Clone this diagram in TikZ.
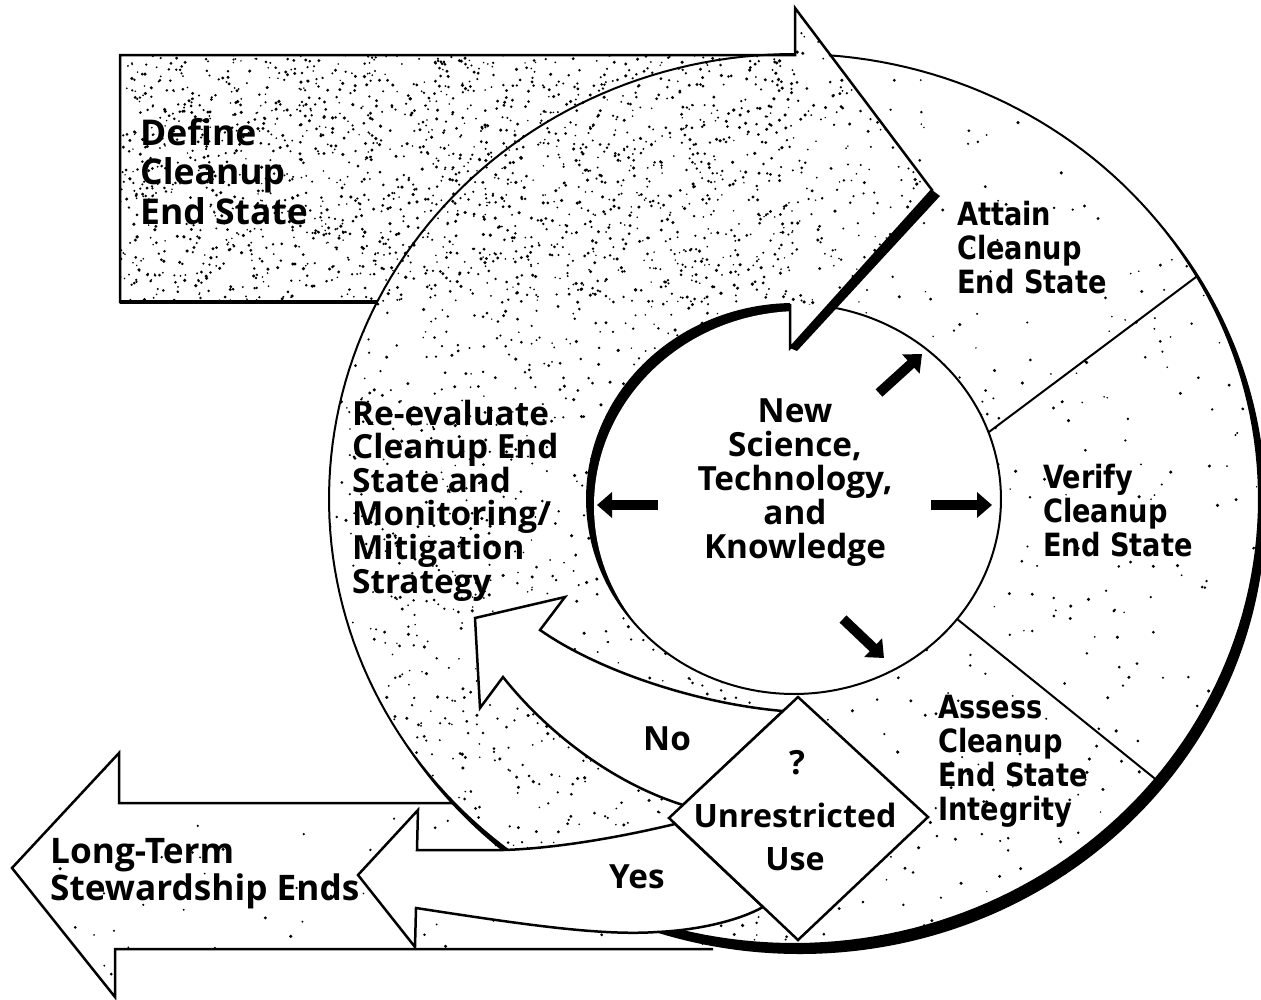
\documentclass[tikz,border=0pt]{standalone}
\usepackage{fontspec}
\newfontfamily\fA{Open Sans}
\newfontfamily\fB{DejaVu Sans}[FakeStretch=0.85]
\usetikzlibrary{arrows.meta}
% #1 = number of chunks of 300 dots
\newcommand{\sprinkle}[5]{\foreach \k in {1,...,#1}{\fill foreach \i in {1,...,300} {({#2+(#3-#2)*rnd},{#4+(#5-#4)*rnd}) circle[radius={0.8+1.0*rnd}]};}}
\newcommand{\sprinklefew}[5]{\fill foreach \i in {1,...,#1} {({#2+(#3-#2)*rnd},{#4+(#5-#4)*rnd}) circle[radius={0.8+1.0*rnd}]};}
\begin{document}
\begin{tikzpicture}[x=1pt,y=-1pt,
  outl/.style={line width=2.5pt, line join=miter},
  thinl/.style={line width=2pt},
  fatarrow/.style={line width=10pt, -{Triangle[length=15pt,width=25pt]}},
  lblA/.style={inner sep=0pt, align=left, font=\fA\bfseries\fontsize{33.3}{33.6}\selectfont},
  lblB/.style={inner sep=0pt, align=left, font=\fB\bfseries\fontsize{32}{33.7}\selectfont}]
\pgfmathsetseed{20240}
\useasboundingbox (0,0) rectangle (1261,999);
\def\ltpath{(119,803) -- (119,753) -- (12,868) -- (115,997) -- (115,949) -- (713,949) -- (713,803) -- cycle}
\def\ringpath{(794,499) ellipse [x radius=465, y radius=445]}
\def\bandpath{(377,302) -- (120,302) -- (120,55) -- (795,55) -- (795,8) -- (932,190) -- (790,348) -- (790,304) -- plot[domain=-90:-270,samples=90] ({794+207*cos(\x)},{499+195*sin(\x)}) -- plot[domain=90:206.27,samples=90] ({794+465*cos(\x)},{499+445*sin(\x)}) -- cycle}
% Long-term arrow
\fill[white] \ltpath;
\begin{scope}\clip \ltpath; \sprinklefew{90}{12}{713}{753}{997}\end{scope}
\draw[outl] (713,803) -- (119,803) -- (119,753) -- (12,868) -- (115,997) -- (115,949) -- (713,949);
% ring with shadow
\fill[black] (800,507) ellipse [x radius=466, y radius=447];
\fill[white] \ringpath;
\begin{scope}\clip \ringpath; \sprinkle{3}{329}{1259}{54}{944}\end{scope}
% stippled band
\fill[white] \bandpath;
\begin{scope}\clip \bandpath; \sprinkle{11}{120}{935}{8}{945} \sprinkle{4}{120}{795}{55}{302}\end{scope}
\draw[thinl] plot[domain=-85.7:270,samples=220] ({794+465*cos(\x)},{499+445*sin(\x)});
% sector dividers
\coordinate (d1a) at ({794+207*cos(-20)},{499+195*sin(-20)});
\coordinate (d1b) at ({794+465*cos(-30)},{499+445*sin(-30)});
\coordinate (d2a) at ({794+207*cos(38)},{499+195*sin(38)});
\coordinate (d2b) at ({794+465*cos(39)},{499+445*sin(39)});
\draw[thinl] (d1a) -- (d1b);
\draw[thinl] (d2a) -- (d2b);
% inner circle
\fill[white] (794,499) ellipse [x radius=207, y radius=195];
\begin{scope}
\clip (794,499) ellipse [x radius=207, y radius=195];
\begin{scope}
\clip (0,0) rectangle (790.5,999);
\fill (0,0) rectangle (1261,999);
\end{scope}
\fill[white] (801,506) ellipse [x radius=207, y radius=195];
\end{scope}
\draw[thinl] plot[domain=-80.5:268.9,samples=200] ({794+207*cos(\x)},{499+195*sin(\x)});
% arrowhead shadow and outlines
\fill (932,190) -- (790,348) -- (797,351) -- (940,196) -- cycle;
\draw[outl] (377,302) -- (120,302) -- (120,55) -- (795,55) -- (795,8) -- (932,190) -- (790,348) -- (790,304);
\draw[line width=3.2pt] (120,302) -- (377,302);
% small arrows
\draw[fatarrow] (658,505) -- (597,505);
\draw[fatarrow] (931,505) -- (992,505);
\draw[fatarrow] (879,393) -- (922,354);
\draw[fatarrow] (843,619) -- (884,658);
% No arrow
\draw[outl, fill=white] (783,711) .. controls (700,704) and (600,672) .. (540,630) -- (565,597) -- (475,618) -- (480,708) -- (503,677) .. controls (545,730) and (610,782) .. (683,805) -- cycle;
% Yes arrow
\draw[outl, fill=white] (675,824) .. controls (600,842) and (540,849) .. (503,850) -- (417,850) -- (418,810) -- (358,875) -- (415,947) -- (416,908) .. controls (520,924) and (600,936) .. (657,932) .. controls (700,930) and (740,920) .. (763,907) -- cycle;
% decision diamond
\draw[outl, fill=white] (798,697) -- (928,817) -- (798,940) -- (669,818) -- cycle;
% texts (anchor = baseline of the last line)
\node[lblA, anchor=base west, font=\fA\bfseries\fontsize{35.5}{39.5}\selectfont] (define) at (140,224) {Define\\Cleanup\\End State};
\node[lblB, anchor=base west] (attain) at (957,293) {Attain\\Cleanup\\End State};
\node[lblB, anchor=base west] (verify) at (1043,556) {Verify\\Cleanup\\End State};
\node[lblB, anchor=base west] (assess) at (938,820) {Assess\\Cleanup\\End State\\Integrity};
\node[lblA, anchor=base west] (reeval) at (352,593) {Re-evaluate\\Cleanup End\\State and\\Monitoring/\\Mitigation\\Strategy};
\node[lblA, anchor=base, align=center, font=\fA\bfseries\fontsize{33.3}{34}\selectfont] (newsci) at (795,558) {New\\Science,\\Technology,\\and\\Knowledge};
\node[lblA, anchor=base] (q) at (797,774) {?};
\node[lblA, anchor=base, align=center, font=\fA\bfseries\fontsize{32.2}{43}\selectfont] (unres) at (795,870) {Unrestricted\\Use};
\node[lblA, anchor=base west] (no) at (643,750) {No};
\node[lblA, anchor=base west] (yes) at (609,888) {Yes};
\node[lblA, anchor=base west, font=\fA\bfseries\fontsize{35.2}{33}\selectfont] (lt) at (50,900) {Long-Term\\Stewardship Ends};
\end{tikzpicture}
\end{document}
